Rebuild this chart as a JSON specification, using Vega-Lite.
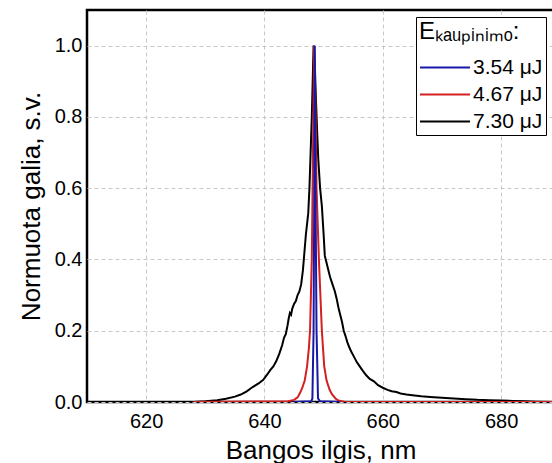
{
  "$schema": "https://vega.github.io/schema/vega-lite/v6.json",
  "width": 467,
  "height": 392,
  "autosize": {"type": "none"},
  "padding": {"left": 87, "top": 10, "right": 0, "bottom": 61},
  "background": "white",
  "config": {
    "font": "Liberation Sans",
    "view": {"stroke": "black", "strokeWidth": 2.5},
    "axis": {
      "domain": false,
      "ticks": false,
      "grid": true,
      "gridColor": "#c8c8c8",
      "gridDash": [4, 3],
      "gridWidth": 1,
      "labelFont": "Liberation Sans",
      "labelFontSize": 20,
      "labelColor": "black",
      "titleFont": "Liberation Sans",
      "titleFontSize": 26,
      "titleFontWeight": "normal",
      "titleColor": "black"
    }
  },
  "datasets": {
    "spectra": [
      {"wl": 628, "I": 0.0, "E": "7.30 μJ"},
      {"wl": 630, "I": 0.002, "E": "7.30 μJ"},
      {"wl": 632, "I": 0.005, "E": "7.30 μJ"},
      {"wl": 633.5, "I": 0.009, "E": "7.30 μJ"},
      {"wl": 635, "I": 0.015, "E": "7.30 μJ"},
      {"wl": 636, "I": 0.021, "E": "7.30 μJ"},
      {"wl": 637, "I": 0.03, "E": "7.30 μJ"},
      {"wl": 638, "I": 0.042, "E": "7.30 μJ"},
      {"wl": 639, "I": 0.052, "E": "7.30 μJ"},
      {"wl": 639.8, "I": 0.062, "E": "7.30 μJ"},
      {"wl": 640.5, "I": 0.078, "E": "7.30 μJ"},
      {"wl": 641, "I": 0.09, "E": "7.30 μJ"},
      {"wl": 641.5, "I": 0.1, "E": "7.30 μJ"},
      {"wl": 642, "I": 0.115, "E": "7.30 μJ"},
      {"wl": 642.5, "I": 0.135, "E": "7.30 μJ"},
      {"wl": 643, "I": 0.16, "E": "7.30 μJ"},
      {"wl": 643.3, "I": 0.18, "E": "7.30 μJ"},
      {"wl": 643.6, "I": 0.19, "E": "7.30 μJ"},
      {"wl": 643.9, "I": 0.215, "E": "7.30 μJ"},
      {"wl": 644.1, "I": 0.235, "E": "7.30 μJ"},
      {"wl": 644.3, "I": 0.25, "E": "7.30 μJ"},
      {"wl": 644.5, "I": 0.245, "E": "7.30 μJ"},
      {"wl": 644.7, "I": 0.262, "E": "7.30 μJ"},
      {"wl": 645.0, "I": 0.275, "E": "7.30 μJ"},
      {"wl": 645.3, "I": 0.283, "E": "7.30 μJ"},
      {"wl": 645.6, "I": 0.3, "E": "7.30 μJ"},
      {"wl": 645.9, "I": 0.31, "E": "7.30 μJ"},
      {"wl": 646.2, "I": 0.33, "E": "7.30 μJ"},
      {"wl": 646.5, "I": 0.37, "E": "7.30 μJ"},
      {"wl": 646.8, "I": 0.43, "E": "7.30 μJ"},
      {"wl": 647.0, "I": 0.47, "E": "7.30 μJ"},
      {"wl": 647.2, "I": 0.5, "E": "7.30 μJ"},
      {"wl": 647.4, "I": 0.53, "E": "7.30 μJ"},
      {"wl": 647.6, "I": 0.6, "E": "7.30 μJ"},
      {"wl": 647.8, "I": 0.7, "E": "7.30 μJ"},
      {"wl": 648.0, "I": 0.8, "E": "7.30 μJ"},
      {"wl": 648.15, "I": 0.9, "E": "7.30 μJ"},
      {"wl": 648.3, "I": 1.0, "E": "7.30 μJ"},
      {"wl": 648.5, "I": 0.95, "E": "7.30 μJ"},
      {"wl": 648.7, "I": 0.85, "E": "7.30 μJ"},
      {"wl": 648.9, "I": 0.76, "E": "7.30 μJ"},
      {"wl": 649.1, "I": 0.68, "E": "7.30 μJ"},
      {"wl": 649.4, "I": 0.6, "E": "7.30 μJ"},
      {"wl": 649.7, "I": 0.55, "E": "7.30 μJ"},
      {"wl": 650.0, "I": 0.47, "E": "7.30 μJ"},
      {"wl": 650.2, "I": 0.41, "E": "7.30 μJ"},
      {"wl": 650.5, "I": 0.39, "E": "7.30 μJ"},
      {"wl": 650.8, "I": 0.37, "E": "7.30 μJ"},
      {"wl": 651.1, "I": 0.35, "E": "7.30 μJ"},
      {"wl": 651.5, "I": 0.33, "E": "7.30 μJ"},
      {"wl": 651.9, "I": 0.31, "E": "7.30 μJ"},
      {"wl": 652.2, "I": 0.29, "E": "7.30 μJ"},
      {"wl": 652.5, "I": 0.265, "E": "7.30 μJ"},
      {"wl": 652.8, "I": 0.245, "E": "7.30 μJ"},
      {"wl": 653.1, "I": 0.225, "E": "7.30 μJ"},
      {"wl": 653.4, "I": 0.2, "E": "7.30 μJ"},
      {"wl": 653.7, "I": 0.185, "E": "7.30 μJ"},
      {"wl": 654.0, "I": 0.168, "E": "7.30 μJ"},
      {"wl": 654.3, "I": 0.155, "E": "7.30 μJ"},
      {"wl": 654.7, "I": 0.14, "E": "7.30 μJ"},
      {"wl": 655.1, "I": 0.128, "E": "7.30 μJ"},
      {"wl": 655.6, "I": 0.112, "E": "7.30 μJ"},
      {"wl": 656.1, "I": 0.1, "E": "7.30 μJ"},
      {"wl": 656.6, "I": 0.088, "E": "7.30 μJ"},
      {"wl": 657.2, "I": 0.075, "E": "7.30 μJ"},
      {"wl": 657.8, "I": 0.065, "E": "7.30 μJ"},
      {"wl": 658.5, "I": 0.058, "E": "7.30 μJ"},
      {"wl": 659.2, "I": 0.047, "E": "7.30 μJ"},
      {"wl": 660, "I": 0.04, "E": "7.30 μJ"},
      {"wl": 660.8, "I": 0.034, "E": "7.30 μJ"},
      {"wl": 661.5, "I": 0.03, "E": "7.30 μJ"},
      {"wl": 662.3, "I": 0.028, "E": "7.30 μJ"},
      {"wl": 663, "I": 0.024, "E": "7.30 μJ"},
      {"wl": 664, "I": 0.021, "E": "7.30 μJ"},
      {"wl": 665, "I": 0.019, "E": "7.30 μJ"},
      {"wl": 666.5, "I": 0.016, "E": "7.30 μJ"},
      {"wl": 668, "I": 0.014, "E": "7.30 μJ"},
      {"wl": 670, "I": 0.012, "E": "7.30 μJ"},
      {"wl": 672, "I": 0.01, "E": "7.30 μJ"},
      {"wl": 674, "I": 0.008, "E": "7.30 μJ"},
      {"wl": 676, "I": 0.006, "E": "7.30 μJ"},
      {"wl": 678, "I": 0.005, "E": "7.30 μJ"},
      {"wl": 680, "I": 0.004, "E": "7.30 μJ"},
      {"wl": 682, "I": 0.003, "E": "7.30 μJ"},
      {"wl": 684, "I": 0.002, "E": "7.30 μJ"},
      {"wl": 686, "I": 0.001, "E": "7.30 μJ"},
      {"wl": 689, "I": 0.0, "E": "7.30 μJ"},

      {"wl": 628, "I": 0.0, "E": "4.67 μJ"},
      {"wl": 644, "I": 0.002, "E": "4.67 μJ"},
      {"wl": 645, "I": 0.006, "E": "4.67 μJ"},
      {"wl": 645.6, "I": 0.013, "E": "4.67 μJ"},
      {"wl": 646.0, "I": 0.025, "E": "4.67 μJ"},
      {"wl": 646.4, "I": 0.04, "E": "4.67 μJ"},
      {"wl": 646.8, "I": 0.06, "E": "4.67 μJ"},
      {"wl": 647.2, "I": 0.1, "E": "4.67 μJ"},
      {"wl": 647.5, "I": 0.15, "E": "4.67 μJ"},
      {"wl": 647.7, "I": 0.2, "E": "4.67 μJ"},
      {"wl": 648.0, "I": 0.4, "E": "4.67 μJ"},
      {"wl": 648.2, "I": 0.7, "E": "4.67 μJ"},
      {"wl": 648.4, "I": 1.0, "E": "4.67 μJ"},
      {"wl": 648.6, "I": 0.85, "E": "4.67 μJ"},
      {"wl": 648.8, "I": 0.6, "E": "4.67 μJ"},
      {"wl": 649.2, "I": 0.4, "E": "4.67 μJ"},
      {"wl": 649.7, "I": 0.2, "E": "4.67 μJ"},
      {"wl": 650.1, "I": 0.1, "E": "4.67 μJ"},
      {"wl": 650.5, "I": 0.06, "E": "4.67 μJ"},
      {"wl": 651.0, "I": 0.035, "E": "4.67 μJ"},
      {"wl": 651.4, "I": 0.022, "E": "4.67 μJ"},
      {"wl": 652.0, "I": 0.01, "E": "4.67 μJ"},
      {"wl": 652.5, "I": 0.004, "E": "4.67 μJ"},
      {"wl": 653.5, "I": 0.001, "E": "4.67 μJ"},
      {"wl": 689, "I": 0.0, "E": "4.67 μJ"},

      {"wl": 644.8, "I": 0.0, "E": "3.54 μJ"},
      {"wl": 647.9, "I": 0.002, "E": "3.54 μJ"},
      {"wl": 648.1, "I": 0.01, "E": "3.54 μJ"},
      {"wl": 648.3, "I": 0.2, "E": "3.54 μJ"},
      {"wl": 648.42, "I": 0.6, "E": "3.54 μJ"},
      {"wl": 648.5, "I": 1.0, "E": "3.54 μJ"},
      {"wl": 648.62, "I": 0.6, "E": "3.54 μJ"},
      {"wl": 648.8, "I": 0.2, "E": "3.54 μJ"},
      {"wl": 649.05, "I": 0.01, "E": "3.54 μJ"},
      {"wl": 649.4, "I": 0.002, "E": "3.54 μJ"},
      {"wl": 652.8, "I": 0.0, "E": "3.54 μJ"}
    ]
  },
  "data": {"name": "spectra"},
  "encoding": {
    "x": {
      "field": "wl", "type": "quantitative",
      "scale": {"domain": [610, 688.94], "nice": false, "zero": false},
      "axis": {"values": [620, 640, 660, 680], "title": "Bangos ilgis, nm", "labelPadding": 9, "titlePadding": 6}
    },
    "y": {
      "field": "I", "type": "quantitative",
      "scale": {"domain": [0, 1.1], "nice": false},
      "axis": {"values": [0, 0.2, 0.4, 0.6, 0.8, 1.0], "format": ".1f", "title": "Normuota galia, s.v.", "labelPadding": 5, "titlePadding": 10}
    },
    "color": {
      "field": "E", "type": "nominal",
      "scale": {"domain": ["3.54 μJ", "4.67 μJ", "7.30 μJ"], "range": ["#1818a8", "#d42020", "#000000"]},
      "legend": {
        "title": "Eₖₐᵤₚᵢₙᵢₘₒ:",
        "orient": "none",
        "legendX": 329,
        "legendY": 7,
        "strokeColor": "black",
        "fillColor": "white",
        "padding": 3,
        "titleFont": "Liberation Sans",
        "titleFontSize": 24,
        "titleFontWeight": "normal",
        "titleColor": "black",
        "titlePadding": 10,
        "labelFont": "Liberation Sans",
        "labelFontSize": 21,
        "labelColor": "black",
        "labelOffset": 27,
        "rowPadding": 3,
        "symbolType": "M-1,0L3,0",
        "symbolSize": 625,
        "symbolStrokeWidth": 2
      }
    }
  },
  "layer": [
    {"transform": [{"filter": "datum.E === '7.30 μJ'"}], "mark": {"type": "line", "strokeWidth": 2, "clip": true}},
    {"transform": [{"filter": "datum.E === '4.67 μJ'"}], "mark": {"type": "line", "strokeWidth": 2, "clip": true}},
    {"transform": [{"filter": "datum.E === '3.54 μJ'"}], "mark": {"type": "line", "strokeWidth": 2, "clip": true}}
  ]
}
